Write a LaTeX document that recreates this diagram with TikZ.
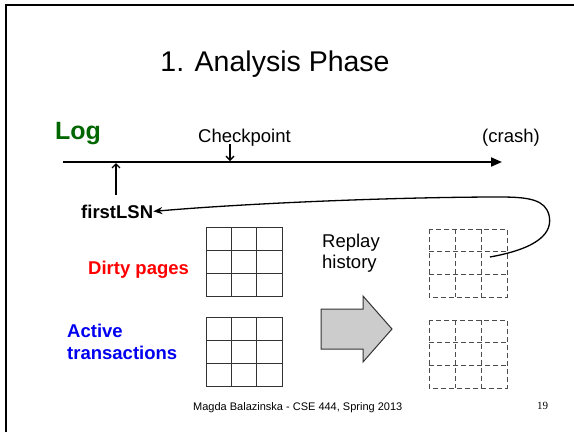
\documentclass[tikz,border=0pt]{standalone}
\usepackage{fontspec}
\setmainfont{Liberation Sans}
\newfontfamily\pagenumfont{Liberation Serif}
\usetikzlibrary{arrows.meta}
\definecolor{logGreen}{RGB}{0,102,0}
\definecolor{atBlue}{RGB}{0,0,240}
\newcommand{\pagegrid}[5]{%
  \draw[#1] (#2,#3) rectangle (#4,#5);
  \foreach \f in {0.3333,0.6667} {
    \draw[#1] ({#2+(#4-#2)*\f},#3) -- ({#2+(#4-#2)*\f},#5);
    \draw[#1] (#2,{#3+(#5-#3)*\f}) -- (#4,{#3+(#5-#3)*\f});
  }}
\begin{document}
\begin{tikzpicture}[x=1pt,y=-1pt,
  lbl/.style={inner sep=0pt, font=\fontsize{18.5}{21}\selectfont},
  blbl/.style={inner sep=0pt, font=\bfseries\fontsize{18.5}{22}\selectfont},
  solidgrid/.style={draw=black!80, line width=1pt},
  dashgrid/.style={draw=black!70, line width=0.9pt, dash pattern=on 5pt off 3pt},
  thinarrow/.style={line width=1.3pt, -{Straight Barb[length=4pt,width=8pt]}},
]
\useasboundingbox (0,0) rectangle (574,432);
\draw[line width=2pt] (6,432) -- (6,5) -- (574,5);

\node[anchor=base, inner sep=0pt, font=\fontsize{28.5}{33}\selectfont] (title) at (275,71) {1. Analysis Phase};

\node[anchor=base west, inner sep=0pt, font=\bfseries\fontsize{25}{28}\selectfont, text=logGreen] (log) at (55,139) {Log};
\node[lbl, anchor=base west] (ckpt) at (198,142) {Checkpoint};
\node[lbl, anchor=base west] (crash) at (482,142) {(crash)};

\coordinate (tl0) at (63,162);
\coordinate (tl1) at (502,162);
\draw[line width=2pt, -{Triangle[length=11pt,width=9pt]}] (tl0) -- (tl1);

\coordinate (cpTop) at (230,144);
\coordinate (cpBot) at (230,161);
\draw[thinarrow] (cpTop) -- (cpBot);

\node[blbl, anchor=base west] (fl) at (81,218) {firstLSN};
\coordinate (flTop) at (116,195);
\coordinate (flBot) at (116,163);
\draw[thinarrow] (flTop) -- (flBot);

\node[blbl, anchor=base west, text=red] (dirty) at (88,274) {Dirty pages};
\node[blbl, anchor=north west, align=left, text=atBlue] (active) at (67,324) {Active\\transactions};

\node[lbl, anchor=north west, align=left, font=\fontsize{18.5}{21}\selectfont] (replay) at (322,234) {Replay\\history};

\pagegrid{solidgrid}{206}{227}{282}{296}
\pagegrid{solidgrid}{206}{317}{282}{386}
\pagegrid{dashgrid}{429}{229}{507}{297}
\pagegrid{dashgrid}{429}{320}{507}{388}

\draw[draw=black!80, fill=black!20, line width=1pt]
  (321,309) -- (363,309) -- (363,296) -- (392,329) -- (363,362) -- (363,349) -- (321,349) -- cycle;

\coordinate (cstart) at (490,257);
\draw[line width=1.3pt, -{Stealth[length=9pt,width=7pt]}]
  (cstart) .. controls (540,248) and (553,232) .. (549,215)
  .. controls (545,200) and (530,197) .. (500,197)
  .. controls (400,197) and (250,203) .. (fl.east);

\node[anchor=base west, inner sep=0pt, font=\fontsize{11}{13}\selectfont] (footer) at (193,410) {Magda Balazinska - CSE 444, Spring 2013};
\node[anchor=base west, inner sep=0pt, font=\pagenumfont\fontsize{11}{13}\selectfont] (pnum) at (537,409) {19};
\end{tikzpicture}
\end{document}
